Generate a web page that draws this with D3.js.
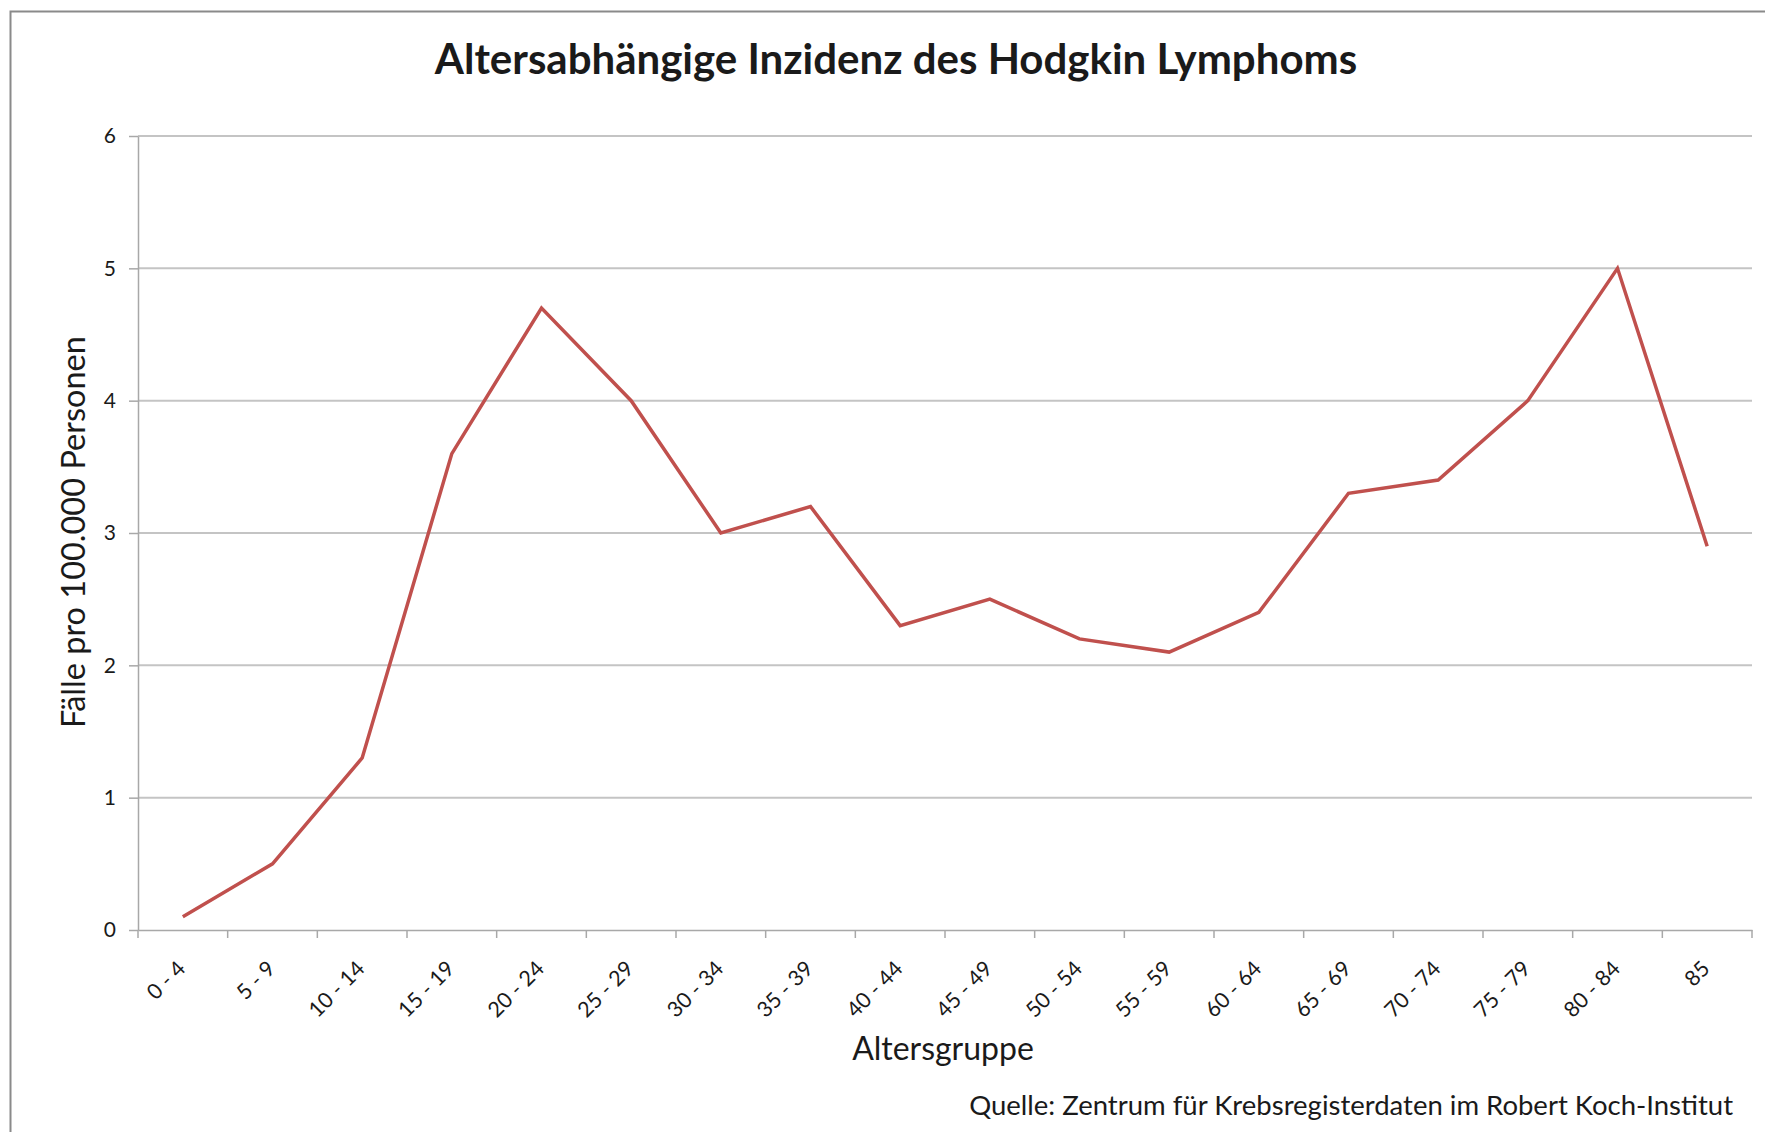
<!DOCTYPE html>
<html>
<head>
<meta charset="utf-8">
<script src="https://cdn.jsdelivr.net/npm/d3@7"></script>
<style>
  body { margin: 0; background: #fff; }
  svg text { font-family: Lato, "Open Sans", sans-serif; fill: #1a1a1a; }
</style>
</head>
<body>
<script>
var ageGroups = ["0 - 4", "5 - 9", "10 - 14", "15 - 19", "20 - 24", "25 - 29", "30 - 34", "35 - 39",
  "40 - 44", "45 - 49", "50 - 54", "55 - 59", "60 - 64", "65 - 69", "70 - 74", "75 - 79", "80 - 84", "85"];
var incidence = [0.1, 0.5, 1.3, 3.6, 4.7, 4.0, 3.0, 3.2, 2.3, 2.5, 2.2, 2.1, 2.4, 3.3, 3.4, 4.0, 5.0, 2.9];
var yTicks = [0, 1, 2, 3, 4, 5, 6];

var W = 1765, H = 1132;
var margin = { top: 136, left: 138, right: 13, bottom: 202 };

var svg = d3.select("body").append("svg")
  .attr("width", W)
  .attr("height", H);

svg.append("rect").attr("width", W).attr("height", H).attr("fill", "#fff");

// frame (only top + left visible in the original screenshot)
svg.append("path")
  .attr("d", "M10.5," + H + "V11.5H" + W)
  .attr("fill", "none")
  .attr("stroke", "#8a8a8a")
  .attr("stroke-width", 2);

var x = d3.scaleBand()
  .domain(ageGroups)
  .range([margin.left, W - margin.right]);

var y = d3.scaleLinear()
  .domain([0, 6])
  .range([H - margin.bottom, margin.top]);

// gridlines
svg.append("g")
  .selectAll("line")
  .data(yTicks.filter(function(d) { return d > 0; }))
  .enter().append("line")
  .attr("x1", margin.left)
  .attr("x2", W - margin.right)
  .attr("y1", function(d) { return y(d); })
  .attr("y2", function(d) { return y(d); })
  .attr("stroke", "#c4c4c4")
  .attr("stroke-width", 2);

// y axis
var yAxis = svg.append("g")
  .attr("transform", "translate(" + margin.left + ",0)")
  .call(d3.axisLeft(y).tickValues(yTicks).tickFormat(d3.format("d"))
    .tickSize(9).tickSizeOuter(0).tickPadding(13));
yAxis.selectAll("line, path").attr("stroke", "#a8a8a8").attr("stroke-width", 1.5);
yAxis.selectAll("text").style("font-size", "21px").attr("fill", "#333");

// x axis: labels at category centers, ticks between categories
var xAxis = svg.append("g")
  .attr("transform", "translate(0," + y(0) + ")")
  .call(d3.axisBottom(x).tickSize(0).tickSizeOuter(0));
xAxis.select(".domain").attr("stroke", "#a8a8a8").attr("stroke-width", 1.5);
xAxis.selectAll("text")
  .attr("y", 0)
  .attr("dy", 0)
  .attr("text-anchor", "end")
  .attr("transform", "translate(4,40) rotate(-45)")
  .style("font-size", "21.5px")
  .attr("fill", "#333");

var bounds = ageGroups.map(function(d) { return x(d); }).concat([x(ageGroups[ageGroups.length - 1]) + x.bandwidth()]);
xAxis.selectAll(".sep")
  .data(bounds)
  .enter().append("line")
  .attr("class", "sep")
  .attr("x1", function(d) { return d; })
  .attr("x2", function(d) { return d; })
  .attr("y1", 0)
  .attr("y2", 8)
  .attr("stroke", "#a8a8a8")
  .attr("stroke-width", 1.5);

// line
var line = d3.line()
  .x(function(d, i) { return x(ageGroups[i]) + x.bandwidth() / 2; })
  .y(function(d) { return y(d); });

svg.append("path")
  .datum(incidence)
  .attr("d", line)
  .attr("fill", "none")
  .attr("stroke", "#c0504d")
  .attr("stroke-width", 3.5)
  .attr("stroke-linejoin", "miter");

// titles
svg.append("text")
  .attr("x", 896)
  .attr("y", 74)
  .attr("text-anchor", "middle")
  .style("font-size", "42px")
  .style("font-weight", "bold")
  .attr("fill", "#000")
  .text("Altersabhängige Inzidenz des Hodgkin Lymphoms");

svg.append("text")
  .attr("transform", "translate(85,532) rotate(-90)")
  .attr("text-anchor", "middle")
  .style("font-size", "32.5px")
  .text("Fälle pro 100.000 Personen");

svg.append("text")
  .attr("x", 943)
  .attr("y", 1060)
  .attr("text-anchor", "middle")
  .style("font-size", "32px")
  .text("Altersgruppe");

svg.append("text")
  .attr("x", 1733)
  .attr("y", 1115)
  .attr("text-anchor", "end")
  .style("font-size", "27.5px")
  .text("Quelle: Zentrum für Krebsregisterdaten im Robert Koch-Institut");
</script>
</body>
</html>
